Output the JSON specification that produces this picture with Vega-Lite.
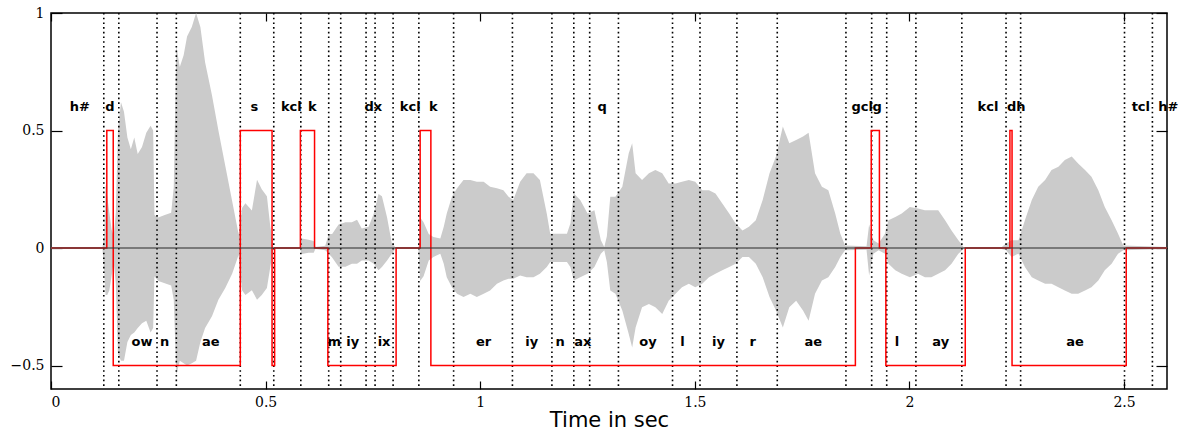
{
  "$schema": "https://vega.github.io/schema/vega-lite/v6.json",
  "width": 1116,
  "height": 376,
  "autosize": {"type": "none"},
  "padding": {"left": 51, "top": 13, "right": 17, "bottom": 42},
  "background": "white",
  "config": {
    "view": {"stroke": "black", "strokeWidth": 1.5},
    "axis": {"domain": false, "grid": false, "labelFont": "DejaVu Serif", "labelFontSize": 14, "labelColor": "black", "tickColor": "black", "tickWidth": 1.2, "format": "~g"}
  },
  "datasets": {
    "wave": [
      {"t":0.000,"hi":0.004,"lo":-0.004},{"t":0.120,"hi":0.004,"lo":-0.004},{"t":0.124,"hi":0.05,"lo":-0.10},{"t":0.127,"hi":0.27,"lo":-0.20},{"t":0.131,"hi":0.22,"lo":-0.20},{"t":0.136,"hi":0.15,"lo":-0.18},{"t":0.141,"hi":0.08,"lo":-0.12},{"t":0.146,"hi":0.05,"lo":-0.06},{"t":0.151,"hi":0.15,"lo":-0.15},{"t":0.156,"hi":0.50,"lo":-0.45},{"t":0.163,"hi":0.62,"lo":-0.48},{"t":0.170,"hi":0.58,"lo":-0.48},{"t":0.178,"hi":0.47,"lo":-0.40},{"t":0.186,"hi":0.42,"lo":-0.37},{"t":0.194,"hi":0.47,"lo":-0.36},{"t":0.202,"hi":0.40,"lo":-0.34},{"t":0.212,"hi":0.43,"lo":-0.32},{"t":0.222,"hi":0.49,"lo":-0.31},{"t":0.232,"hi":0.52,"lo":-0.36},{"t":0.238,"hi":0.50,"lo":-0.34},{"t":0.241,"hi":0.14,"lo":-0.12},{"t":0.250,"hi":0.13,"lo":-0.14},{"t":0.265,"hi":0.14,"lo":-0.15},{"t":0.280,"hi":0.15,"lo":-0.16},{"t":0.286,"hi":0.26,"lo":-0.22},{"t":0.292,"hi":0.86,"lo":-0.54},{"t":0.300,"hi":0.77,"lo":-0.48},{"t":0.309,"hi":0.82,"lo":-0.49},{"t":0.317,"hi":0.90,"lo":-0.50},{"t":0.328,"hi":0.94,"lo":-0.49},{"t":0.338,"hi":1.00,"lo":-0.48},{"t":0.348,"hi":0.94,"lo":-0.40},{"t":0.359,"hi":0.79,"lo":-0.34},{"t":0.375,"hi":0.65,"lo":-0.29},{"t":0.390,"hi":0.50,"lo":-0.22},{"t":0.406,"hi":0.35,"lo":-0.17},{"t":0.422,"hi":0.20,"lo":-0.11},{"t":0.437,"hi":0.06,"lo":-0.03},{"t":0.441,"hi":0.10,"lo":-0.10},{"t":0.445,"hi":0.17,"lo":-0.18},{"t":0.453,"hi":0.19,"lo":-0.20},{"t":0.468,"hi":0.16,"lo":-0.18},{"t":0.480,"hi":0.29,"lo":-0.22},{"t":0.491,"hi":0.25,"lo":-0.20},{"t":0.503,"hi":0.22,"lo":-0.17},{"t":0.511,"hi":0.09,"lo":-0.08},{"t":0.518,"hi":0.004,"lo":-0.004},{"t":0.580,"hi":0.004,"lo":-0.004},{"t":0.584,"hi":0.04,"lo":-0.025},{"t":0.600,"hi":0.035,"lo":-0.02},{"t":0.612,"hi":0.03,"lo":-0.02},{"t":0.616,"hi":0.004,"lo":-0.004},{"t":0.639,"hi":0.01,"lo":-0.01},{"t":0.647,"hi":0.06,"lo":-0.024},{"t":0.655,"hi":0.06,"lo":-0.04},{"t":0.670,"hi":0.10,"lo":-0.08},{"t":0.686,"hi":0.11,"lo":-0.08},{"t":0.701,"hi":0.11,"lo":-0.067},{"t":0.713,"hi":0.12,"lo":-0.067},{"t":0.724,"hi":0.083,"lo":-0.053},{"t":0.740,"hi":0.09,"lo":-0.053},{"t":0.752,"hi":0.147,"lo":-0.067},{"t":0.763,"hi":0.23,"lo":-0.095},{"t":0.771,"hi":0.22,"lo":-0.081},{"t":0.783,"hi":0.13,"lo":-0.053},{"t":0.794,"hi":0.02,"lo":-0.024},{"t":0.802,"hi":0.004,"lo":-0.004},{"t":0.856,"hi":0.004,"lo":-0.004},{"t":0.860,"hi":0.13,"lo":-0.14},{"t":0.868,"hi":0.11,"lo":-0.12},{"t":0.880,"hi":0.06,"lo":-0.053},{"t":0.891,"hi":0.047,"lo":-0.038},{"t":0.907,"hi":0.04,"lo":-0.024},{"t":0.915,"hi":0.09,"lo":-0.067},{"t":0.922,"hi":0.147,"lo":-0.124},{"t":0.934,"hi":0.218,"lo":-0.167},{"t":0.946,"hi":0.254,"lo":-0.195},{"t":0.961,"hi":0.289,"lo":-0.209},{"t":0.977,"hi":0.289,"lo":-0.195},{"t":0.992,"hi":0.282,"lo":-0.209},{"t":1.008,"hi":0.282,"lo":-0.195},{"t":1.023,"hi":0.261,"lo":-0.181},{"t":1.039,"hi":0.254,"lo":-0.152},{"t":1.054,"hi":0.246,"lo":-0.138},{"t":1.066,"hi":0.218,"lo":-0.131},{"t":1.077,"hi":0.204,"lo":-0.131},{"t":1.093,"hi":0.282,"lo":-0.117},{"t":1.108,"hi":0.318,"lo":-0.124},{"t":1.124,"hi":0.318,"lo":-0.124},{"t":1.139,"hi":0.289,"lo":-0.110},{"t":1.155,"hi":0.147,"lo":-0.081},{"t":1.163,"hi":0.061,"lo":-0.06},{"t":1.185,"hi":0.061,"lo":-0.06},{"t":1.202,"hi":0.061,"lo":-0.06},{"t":1.210,"hi":0.104,"lo":-0.081},{"t":1.218,"hi":0.232,"lo":-0.138},{"t":1.233,"hi":0.204,"lo":-0.124},{"t":1.250,"hi":0.147,"lo":-0.11},{"t":1.266,"hi":0.161,"lo":-0.081},{"t":1.281,"hi":0.033,"lo":-0.024},{"t":1.289,"hi":0.004,"lo":-0.01},{"t":1.295,"hi":0.05,"lo":-0.06},{"t":1.303,"hi":0.218,"lo":-0.181},{"t":1.315,"hi":0.218,"lo":-0.195},{"t":1.331,"hi":0.261,"lo":-0.266},{"t":1.346,"hi":0.403,"lo":-0.366},{"t":1.354,"hi":0.446,"lo":-0.423},{"t":1.362,"hi":0.318,"lo":-0.338},{"t":1.377,"hi":0.289,"lo":-0.252},{"t":1.393,"hi":0.318,"lo":-0.238},{"t":1.408,"hi":0.332,"lo":-0.252},{"t":1.424,"hi":0.318,"lo":-0.281},{"t":1.439,"hi":0.275,"lo":-0.224},{"t":1.455,"hi":0.275,"lo":-0.195},{"t":1.470,"hi":0.282,"lo":-0.167},{"t":1.486,"hi":0.289,"lo":-0.152},{"t":1.501,"hi":0.282,"lo":-0.167},{"t":1.517,"hi":0.246,"lo":-0.152},{"t":1.533,"hi":0.246,"lo":-0.124},{"t":1.548,"hi":0.232,"lo":-0.11},{"t":1.564,"hi":0.189,"lo":-0.095},{"t":1.580,"hi":0.147,"lo":-0.081},{"t":1.595,"hi":0.104,"lo":-0.067},{"t":1.611,"hi":0.075,"lo":-0.038},{"t":1.626,"hi":0.09,"lo":-0.038},{"t":1.642,"hi":0.118,"lo":-0.067},{"t":1.658,"hi":0.204,"lo":-0.124},{"t":1.674,"hi":0.318,"lo":-0.209},{"t":1.689,"hi":0.389,"lo":-0.266},{"t":1.705,"hi":0.517,"lo":-0.338},{"t":1.720,"hi":0.446,"lo":-0.252},{"t":1.736,"hi":0.46,"lo":-0.224},{"t":1.752,"hi":0.474,"lo":-0.266},{"t":1.765,"hi":0.49,"lo":-0.31},{"t":1.780,"hi":0.318,"lo":-0.195},{"t":1.796,"hi":0.261,"lo":-0.138},{"t":1.811,"hi":0.246,"lo":-0.124},{"t":1.827,"hi":0.147,"lo":-0.081},{"t":1.839,"hi":0.061,"lo":-0.038},{"t":1.850,"hi":0.011,"lo":-0.01},{"t":1.900,"hi":0.007,"lo":-0.007},{"t":1.906,"hi":0.10,"lo":-0.117},{"t":1.916,"hi":0.033,"lo":-0.024},{"t":1.928,"hi":0.019,"lo":-0.01},{"t":1.943,"hi":0.061,"lo":-0.024},{"t":1.951,"hi":0.118,"lo":-0.067},{"t":1.967,"hi":0.132,"lo":-0.095},{"t":1.982,"hi":0.147,"lo":-0.11},{"t":2.001,"hi":0.175,"lo":-0.124},{"t":2.020,"hi":0.168,"lo":-0.11},{"t":2.036,"hi":0.161,"lo":-0.124},{"t":2.051,"hi":0.161,"lo":-0.124},{"t":2.067,"hi":0.161,"lo":-0.11},{"t":2.083,"hi":0.118,"lo":-0.095},{"t":2.098,"hi":0.075,"lo":-0.067},{"t":2.114,"hi":0.033,"lo":-0.024},{"t":2.126,"hi":0.004,"lo":-0.004},{"t":2.215,"hi":0.004,"lo":-0.004},{"t":2.225,"hi":0.019,"lo":-0.01},{"t":2.238,"hi":0.033,"lo":-0.038},{"t":2.254,"hi":0.033,"lo":-0.024},{"t":2.269,"hi":0.118,"lo":-0.081},{"t":2.285,"hi":0.204,"lo":-0.124},{"t":2.300,"hi":0.261,"lo":-0.138},{"t":2.316,"hi":0.289,"lo":-0.152},{"t":2.331,"hi":0.332,"lo":-0.152},{"t":2.347,"hi":0.346,"lo":-0.167},{"t":2.362,"hi":0.375,"lo":-0.181},{"t":2.378,"hi":0.389,"lo":-0.195},{"t":2.393,"hi":0.36,"lo":-0.195},{"t":2.409,"hi":0.332,"lo":-0.181},{"t":2.424,"hi":0.303,"lo":-0.167},{"t":2.440,"hi":0.246,"lo":-0.138},{"t":2.455,"hi":0.175,"lo":-0.095},{"t":2.471,"hi":0.118,"lo":-0.067},{"t":2.486,"hi":0.061,"lo":-0.024},{"t":2.498,"hi":0.011,"lo":-0.01},{"t":2.600,"hi":0.004,"lo":-0.004}
    ],
    "bounds": [
      {"t":0.123},{"t":0.158},{"t":0.247},{"t":0.292},{"t":0.441},{"t":0.519},{"t":0.582},{"t":0.647},{"t":0.675},{"t":0.734},{"t":0.755},{"t":0.797},{"t":0.857},{"t":0.938},{"t":1.075},{"t":1.167},{"t":1.218},{"t":1.255},{"t":1.322},{"t":1.448},{"t":1.512},{"t":1.598},{"t":1.692},{"t":1.852},{"t":1.912},{"t":1.947},{"t":2.015},{"t":2.122},{"t":2.225},{"t":2.259},{"t":2.501},{"t":2.566}
    ],
    "steps": [
      {"t":0.000,"v":0},{"t":0.130,"v":0.5},{"t":0.145,"v":-0.5},{"t":0.441,"v":0.5},{"t":0.515,"v":-0.5},{"t":0.521,"v":0},{"t":0.581,"v":0.5},{"t":0.614,"v":0},{"t":0.645,"v":-0.5},{"t":0.804,"v":0},{"t":0.860,"v":0.5},{"t":0.885,"v":-0.5},{"t":1.874,"v":0},{"t":1.911,"v":0.5},{"t":1.930,"v":0},{"t":1.945,"v":-0.5},{"t":2.130,"v":0},{"t":2.234,"v":0.5},{"t":2.239,"v":-0.5},{"t":2.505,"v":0},{"t":2.600,"v":0}
    ],
    "labels": [
      {"t":0.067,"ph":"h#","row":"top"},{"t":0.137,"ph":"d","row":"top"},{"t":0.474,"ph":"s","row":"top"},{"t":0.560,"ph":"kcl","row":"top"},{"t":0.609,"ph":"k","row":"top"},{"t":0.751,"ph":"dx","row":"top"},{"t":0.837,"ph":"kcl","row":"top"},{"t":0.891,"ph":"k","row":"top"},{"t":1.284,"ph":"q","row":"top"},{"t":1.890,"ph":"gcl","row":"top"},{"t":1.925,"ph":"g","row":"top"},{"t":2.183,"ph":"kcl","row":"top"},{"t":2.249,"ph":"dh","row":"top"},{"t":2.539,"ph":"tcl","row":"top"},{"t":2.603,"ph":"h#","row":"top"},
      {"t":0.212,"ph":"ow","row":"bottom"},{"t":0.265,"ph":"n","row":"bottom"},{"t":0.372,"ph":"ae","row":"bottom"},{"t":0.660,"ph":"m","row":"bottom"},{"t":0.703,"ph":"iy","row":"bottom"},{"t":0.776,"ph":"ix","row":"bottom"},{"t":1.008,"ph":"er","row":"bottom"},{"t":1.120,"ph":"iy","row":"bottom"},{"t":1.186,"ph":"n","row":"bottom"},{"t":1.239,"ph":"ax","row":"bottom"},{"t":1.391,"ph":"oy","row":"bottom"},{"t":1.471,"ph":"l","row":"bottom"},{"t":1.555,"ph":"iy","row":"bottom"},{"t":1.635,"ph":"r","row":"bottom"},{"t":1.776,"ph":"ae","row":"bottom"},{"t":1.971,"ph":"l","row":"bottom"},{"t":2.073,"ph":"ay","row":"bottom"},{"t":2.386,"ph":"ae","row":"bottom"}
    ]
  },
  "resolve": {"axis": {"x": "independent", "y": "independent"}},
  "layer": [
    {
      "data": {"name": "wave"},
      "mark": {"type": "area", "color": "#cbcbcb"},
      "encoding": {
        "x": {"field": "t", "type": "quantitative", "scale": {"domain": [0, 2.6], "nice": false, "zero": false},
              "axis": {"orient": "bottom", "values": [0, 0.5, 1, 1.5, 2, 2.5], "tickSize": -8, "labelPadding": 14, "title": "Time in sec", "titleFont": "DejaVu Sans", "titleFontSize": 21, "titleFontWeight": "normal", "titleColor": "black", "titlePadding": 0}},
        "y": {"field": "hi", "type": "quantitative", "scale": {"domain": [-0.6, 1], "nice": false, "zero": false},
              "axis": {"orient": "left", "values": [-0.5, 0, 0.5, 1], "tickSize": -11, "labelPadding": 18, "title": null}},
        "y2": {"field": "lo"}
      }
    },
    {
      "data": {"name": "bounds"},
      "mark": {"type": "rule", "color": "black", "strokeWidth": 1.6, "strokeDash": [1.6, 3.1]},
      "encoding": {
        "x": {"field": "t", "type": "quantitative", "scale": {"domain": [0, 2.6]}, "axis": null}
      }
    },
    {
      "data": {"name": "steps"},
      "mark": {"type": "line", "color": "#ff0000", "strokeWidth": 1.5, "interpolate": "step-after"},
      "encoding": {
        "x": {"field": "t", "type": "quantitative", "scale": {"domain": [0, 2.6]}, "axis": null},
        "y": {"field": "v", "type": "quantitative", "scale": {"domain": [-0.6, 1]}, "axis": null}
      }
    },
    {
      "data": {"values": [{"z": 0}]},
      "mark": {"type": "rule", "color": "#3a3a3a", "strokeWidth": 1.6, "opacity": 0.75},
      "encoding": {
        "y": {"field": "z", "type": "quantitative", "scale": {"domain": [-0.6, 1]},
              "axis": {"orient": "right", "values": [-0.5, 0, 0.5, 1], "tickSize": -11, "labels": false, "title": null}}
      }
    },
    {
      "data": {"values": [{"z": 0}]},
      "mark": {"type": "rule", "opacity": 0},
      "encoding": {
        "x": {"field": "z", "type": "quantitative", "scale": {"domain": [0, 2.6]},
              "axis": {"orient": "top", "values": [0, 0.5, 1, 1.5, 2, 2.5], "tickSize": -8, "labels": false, "title": null}}
      }
    },
    {
      "data": {"name": "labels"},
      "transform": [{"filter": "datum.row === 'top'"}],
      "mark": {"type": "text", "font": "DejaVu Sans", "fontWeight": "bold", "fontSize": 13, "color": "black", "baseline": "middle", "align": "center"},
      "encoding": {
        "x": {"field": "t", "type": "quantitative", "scale": {"domain": [0, 2.6]}, "axis": null},
        "y": {"datum": 0.6, "scale": {"domain": [-0.6, 1]}, "axis": null},
        "text": {"field": "ph"}
      }
    },
    {
      "data": {"name": "labels"},
      "transform": [{"filter": "datum.row === 'bottom'"}],
      "mark": {"type": "text", "font": "DejaVu Sans", "fontWeight": "bold", "fontSize": 13, "color": "black", "baseline": "middle", "align": "center"},
      "encoding": {
        "x": {"field": "t", "type": "quantitative", "scale": {"domain": [0, 2.6]}, "axis": null},
        "y": {"datum": -0.4, "scale": {"domain": [-0.6, 1]}, "axis": null},
        "text": {"field": "ph"}
      }
    }
  ]
}
